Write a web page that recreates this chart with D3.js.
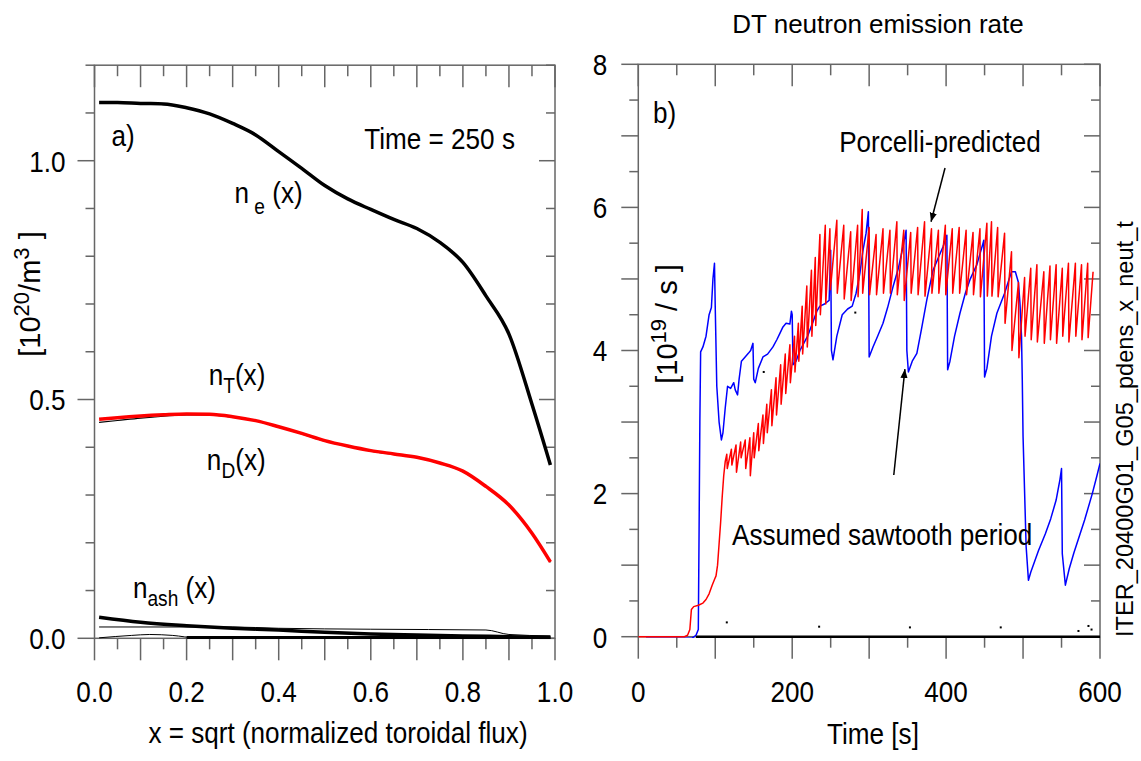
<!DOCTYPE html>
<html><head><meta charset="utf-8">
<script src="https://cdn.jsdelivr.net/npm/d3@7"></script>
<style>
body{margin:0;background:#fff;}
svg{display:block;}
</style></head><body>
<svg id="c" width="1141" height="761"></svg>
<script>
// ---------- Panel a) : density profiles ----------
const profX   = [0.01,0.05,0.10,0.15,0.20,0.25,0.30,0.35,0.40,0.45,0.50,0.55,0.60,0.65,0.70,0.75,0.80,0.85,0.90,0.95,0.99];
const neVals  = [1.122,1.122,1.120,1.119,1.111,1.098,1.078,1.054,1.019,0.984,0.948,0.920,0.898,0.877,0.858,0.829,0.787,0.717,0.637,0.490,0.363];
const nTVals  = [0.4585,0.462,0.4655,0.468,0.4697,0.469,0.464,0.4557,0.443,0.429,0.414,0.4026,0.393,0.386,0.379,0.367,0.350,0.318,0.279,0.220,0.160];
const nDVals  = [0.452,0.456,0.461,0.465,0.468,0.468,0.463,0.455,0.442,0.428,0.413,0.402,0.392,0.385,0.378,0.366,0.349,0.317,0.278,0.219,0.159];
const ashX    = [0.01,0.10,0.20,0.30,0.40,0.50,0.60,0.70,0.80,0.90,0.99];
const ashVals = [0.044,0.0335,0.0264,0.021,0.0174,0.0125,0.009,0.0069,0.005,0.0035,0.002];
const thinAX  = [0.01,0.30,0.40,0.60,0.85,0.90,0.99];
const thinAV  = [0.0237,0.0237,0.021,0.019,0.0174,0.008,0.005];
const thinBX  = [0.01,0.08,0.12,0.17,0.22,0.99];
const thinBV  = [0.001,0.006,0.008,0.006,0.001,0.001];
const zeroAX  = [0.2,0.99];
const zeroAV  = [0.001,0.001];
const xLabelsA = [0.0,0.2,0.4,0.6,0.8,1.0];
const yLabelsA = [0.0,0.5,1.0];

// ---------- Panel b) : neutron rate ----------
const redRampT = [0,60,64,67,69,72,78,84,88,92,96,99,101,103,105,107,109,111,113];
const redRampV = [0,0,0.02,0.1,0.38,0.42,0.44,0.47,0.52,0.60,0.72,0.80,0.85,1.0,1.3,1.6,1.95,2.25,2.45];
const toothT = [115,121,127,133,139,145,150,156,162,167,173,179,185,191,197,203,208,213,219,225,230,236,243,
                249,258,267,276,285,291,300,309,318,327,336,345,354,363,372,381,390,399,408,417,426,435,444,453,459,467,476,485,
                494,502,510,518,527,535,543,551,559,568,576,584];
const toothPeak = [2.55,2.62,2.68,2.72,2.75,2.78,2.85,2.98,3.10,3.25,3.45,3.62,3.80,3.95,4.08,4.20,4.38,4.62,4.90,5.12,5.30,5.62,5.75,
                5.70,5.82,5.75,5.66,5.75,5.97,5.72,5.62,5.70,5.68,5.80,5.68,5.65,5.72,5.80,5.70,5.68,5.75,5.70,5.72,5.68,5.65,5.70,5.78,5.80,5.72,5.64,5.38,
                4.95,5.02,5.15,5.20,5.10,5.18,5.20,5.15,5.22,5.22,5.20,5.22];
const toothTrough = [2.35,2.40,2.30,2.50,2.35,2.25,2.50,2.60,2.70,2.85,2.95,3.10,3.25,3.40,3.55,3.70,3.85,3.95,4.05,4.20,4.35,4.50,4.65,
                4.85,4.80,4.72,4.70,4.75,4.80,4.78,4.78,4.80,4.80,4.78,4.70,4.80,4.78,4.76,4.80,4.80,4.78,4.80,4.80,4.78,4.78,4.75,4.76,4.76,4.75,4.38,4.00,
                3.90,4.20,4.15,4.12,4.10,4.15,4.10,4.20,4.12,4.20,4.15,4.18];
const redEndT = [591], redEndV = [5.10];

const blueT = [10,70,75,78,79,80,81,84,88,92,95,97,99,100,102,105,108,110,113,116,120,124,126,129,131,134,138,143,146,149,150,152,156,162,168,175,180,184,188,192,197,199,200,201,205,210,215,220,227,232,236,242,248,250,251,253,258,265,272,278,283,288,292,296,299,300,305,311,318,324,331,338,344,348,349,351,356,362,368,375,383,390,396,401,402,405,411,418,425,431,440,448,449,450,453,459,466,476,485,490,494,496,498,499,500,504,507,510,515,520,529,536,543,548,550,551,555,560,566,573,580,590,596,600];
const blueV = [-0.02,-0.02,0.02,0.1,1.5,3.0,3.98,4.05,4.2,4.5,4.6,5.0,5.22,4.6,3.5,3.0,2.75,2.85,3.2,3.5,3.47,3.55,3.45,3.38,3.6,3.85,3.9,3.96,4.0,4.1,3.6,3.55,3.75,3.91,3.95,4.05,4.15,4.24,4.33,4.38,4.37,4.55,4.5,3.8,3.85,4.0,4.1,4.2,4.4,4.55,4.62,4.65,4.7,5.4,4.0,3.87,4.2,4.5,4.58,4.62,4.8,5.08,5.4,5.64,5.94,3.91,4.05,4.2,4.38,4.6,4.89,5.15,5.45,5.68,4.0,3.7,3.85,3.96,4.3,4.71,5.12,5.3,5.45,5.61,3.73,3.85,4.2,4.52,4.8,4.99,5.2,5.5,5.54,3.63,3.75,4.2,4.52,4.8,5.1,5.1,4.95,4.66,4.2,3.59,2.8,1.26,0.79,0.9,1.05,1.2,1.44,1.65,1.91,2.2,2.35,1.16,0.72,0.95,1.17,1.4,1.63,2.0,2.25,2.42];
const zeroBT = [75,600], zeroBV = [0,0];
const strayT = [115,235,353,471,589,163,282,585,572];
const strayV = [0.2,0.14,0.13,0.13,0.1,3.7,4.53,0.15,0.08];
const xLabelsB = [0,200,400,600];
const yLabelsB = [0,2,4,6,8];

// ---------- drawing ----------
const FONT = "'Liberation Sans',Arial,sans-serif";
const SQ = 0.87;   // horizontal condensation of the narrow lettering
const svg = d3.select("#c");
const frameCol = "#666";

const xA = d3.scaleLinear().domain([0,1]).range([94.5,555]);
const yA = d3.scaleLinear().domain([0,1.2]).range([638.3,65.2]);
const xB = d3.scaleLinear().domain([0,600]).range([638.3,1100]);
const yB = d3.scaleLinear().domain([0,8]).range([636.7,64.3]);

// narrow text: a group translated to the anchor and squeezed horizontally
function ntext(x, y, size, anchor){
  return svg.append("g").attr("transform",`translate(${x},${y}) scale(${SQ},1)`)
    .append("text").attr("x",0).attr("y",0).attr("font-family",FONT).attr("font-size",size)
    .attr("text-anchor",anchor||"start");
}

function frame(x, y, xMinor, xMajorTest, yMinor, yMajorTest, xLab, yLab, xfmt, yfmt, yLabOffset){
  const g = svg.append("g");
  const [x0,x1] = x.range(), [y0,y1] = y.range();
  g.append("rect").attr("x",x0).attr("y",y1).attr("width",x1-x0).attr("height",y0-y1)
    .attr("fill","none").attr("stroke",frameCol).attr("stroke-width",1.5);
  xMinor.forEach(v=>{
    const big = xMajorTest(v);
    g.append("line").attr("x1",x(v)).attr("x2",x(v)).attr("y1",y0).attr("y2",y0+(big?22:11)).attr("stroke",frameCol).attr("stroke-width",1.5);
    g.append("line").attr("x1",x(v)).attr("x2",x(v)).attr("y1",y1).attr("y2",y1+(big?22:11)).attr("stroke",frameCol).attr("stroke-width",1.5);
  });
  yMinor.forEach(v=>{
    const big = yMajorTest(v);
    g.append("line").attr("x1",x0).attr("x2",x0-(big?17:9)).attr("y1",y(v)).attr("y2",y(v)).attr("stroke",frameCol).attr("stroke-width",1.5);
    g.append("line").attr("x1",x1).attr("x2",x1-(big?16:9)).attr("y1",y(v)).attr("y2",y(v)).attr("stroke",frameCol).attr("stroke-width",1.5);
  });
  xLab.forEach(v=>{ ntext(x(v),702,30,"middle").text(xfmt(v)); });
  yLab.forEach(v=>{ ntext(x0-yLabOffset,y(v),30,"end").attr("dy","0.36em").text(yfmt(v)); });
}
const near = (v,s)=>Math.abs(v/s-Math.round(v/s))<1e-6;
frame(xA,yA,xA.ticks(20),v=>near(v,0.1),yA.ticks(12),v=>near(v,0.5),xLabelsA,yLabelsA,d3.format(".1f"),d3.format(".1f"),29);
frame(xB,yB,xB.ticks(12),v=>near(v,100),yB.ticks(16),v=>near(v,1),xLabelsB,yLabelsB,d3.format("d"),d3.format("d"),31);

// clip paths
svg.append("clipPath").attr("id","clipA").append("rect").attr("x",94.5).attr("y",65).attr("width",460.5).attr("height",574);
svg.append("clipPath").attr("id","clipB").append("rect").attr("x",638.3).attr("y",64).attr("width",461.7).attr("height",574);

// panel a lines
const lineA = d3.line().x(d=>xA(d[0])).y(d=>yA(d[1])).curve(d3.curveMonotoneX);
const gA = svg.append("g").attr("clip-path","url(#clipA)");
function drawA(xs, vs, col, w){
  gA.append("path").datum(xs.map((x,i)=>[x,vs[i]])).attr("d",lineA).attr("fill","none")
    .attr("stroke",col).attr("stroke-width",w).attr("stroke-linejoin","round");
}
drawA(zeroAX,zeroAV,"#000",3.5);
drawA(thinBX,thinBV,"#000",1);
drawA(thinAX,thinAV,"#000",1);
drawA(ashX,ashVals,"#000",3.5);
drawA(profX,nDVals,"#000",1.2);
drawA(profX,nTVals,"#ff0000",3.5);
drawA(profX,neVals,"#000",3.5);

// panel b lines
const lineB = d3.line().x(d=>xB(d[0])).y(d=>yB(d[1]));
const gB = svg.append("g").attr("clip-path","url(#clipB)");
const redPts = redRampT.map((t,i)=>[t,redRampV[i]]);
toothT.forEach((t,i)=>{ redPts.push([t,toothPeak[i]]); redPts.push([t+0.6,toothTrough[i]]); });
redEndT.forEach((t,i)=>redPts.push([t,redEndV[i]]));
gB.append("path").datum(zeroBT.map((t,i)=>[t,zeroBV[i]])).attr("d",lineB).attr("fill","none").attr("stroke","#000").attr("stroke-width",2.5);
gB.append("path").datum(blueT.map((t,i)=>[t,blueV[i]])).attr("d",lineB).attr("fill","none").attr("stroke","#0000ff").attr("stroke-width",1.5).attr("stroke-linejoin","round");
gB.append("path").datum(redPts).attr("d",lineB).attr("fill","none").attr("stroke","#ff0000").attr("stroke-width",1.5).attr("stroke-linejoin","round");
gB.selectAll("rect.dot").data(strayT.map((t,i)=>[t,strayV[i]])).enter().append("rect")
  .attr("x",d=>xB(d[0])-1).attr("y",d=>yB(d[1])-1).attr("width",2).attr("height",2).attr("fill","#000");

// ---------- text ----------
ntext(xA(0.037),yA(1.031),30).text("a)");
ntext(xA(0.586),yA(1.024),30).text("Time = 250 s");
function subLabel(x,y,main,sub,after,gap){
  const t = ntext(x,y,30);
  t.append("tspan").text(main);
  t.append("tspan").attr("dy",gap).attr("font-size",22).text(sub);
  t.append("tspan").attr("dy",-gap).text(after);
}
subLabel(xA(0.304),yA(0.911),"n"," e"," (x)",11);
subLabel(xA(0.248),yA(0.530),"n","T","(x)",8);
subLabel(xA(0.244),yA(0.352),"n","D","(x)",8);
subLabel(xA(0.0835),yA(0.0838),"n","ash"," (x)",8);

ntext(338,743,30,"middle").text("x = sqrt (normalized toroidal flux)");
ntext(873,744,30,"middle").text("Time [s]");
svg.append("text").attr("x",878).attr("y",33).attr("text-anchor","middle").attr("font-family",FONT).attr("font-size",26).text("DT neutron emission rate");

// y label panel a
let yl = svg.append("text").attr("transform","translate(40,294) rotate(-90)").attr("text-anchor","middle")
  .attr("font-family",FONT).attr("font-size",29);
yl.append("tspan").text("[10");
yl.append("tspan").attr("dy",-11).attr("font-size",22).text("20");
yl.append("tspan").attr("dy",11).text("/m");
yl.append("tspan").attr("dy",-11).attr("font-size",22).text("3");
yl.append("tspan").attr("dy",11).text(" ]");
// y label panel b
let yl2 = svg.append("text").attr("transform","translate(677,324) rotate(-90)").attr("text-anchor","middle")
  .attr("font-family",FONT).attr("font-size",29);
yl2.append("tspan").text("[10");
yl2.append("tspan").attr("dy",-11).attr("font-size",22).text("19");
yl2.append("tspan").attr("dy",11).text(" / s ]");
// right side run id
svg.append("text").attr("transform","translate(1133,637) rotate(-90)").attr("text-anchor","start")
  .attr("font-family",FONT).attr("font-size",23.6).text("ITER_20400G01_G05_pdens_x_neut_t");

// panel b annotations
ntext(xB(19),yB(7.18),30).text("b)");
ntext(xB(392),yB(6.78),30,"middle").text("Porcelli-predicted");
ntext(xB(121.8),yB(1.28),30).text("Assumed sawtooth period");
const arrowStart = [[398.6,6.55],[332,2.26]];
const arrowEnd   = [[380.4,5.80],[346.5,3.74]];
svg.append("defs").append("marker").attr("id","ah").attr("viewBox","0 0 10 10").attr("refX",10).attr("refY",5)
  .attr("markerWidth",9).attr("markerHeight",9).attr("markerUnits","userSpaceOnUse").attr("orient","auto")
  .append("path").attr("d","M0,1 L10,5 L0,9 Z").attr("fill","#000");
arrowStart.forEach((s,i)=>{
  svg.append("line").attr("x1",xB(s[0])).attr("y1",yB(s[1])).attr("x2",xB(arrowEnd[i][0])).attr("y2",yB(arrowEnd[i][1]))
    .attr("stroke","#000").attr("stroke-width",1.5).attr("marker-end","url(#ah)");
});
</script>
</body></html>
